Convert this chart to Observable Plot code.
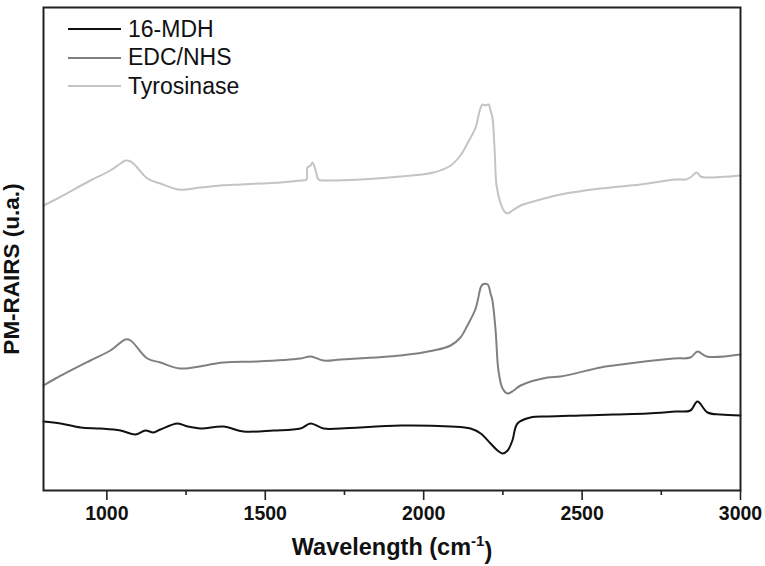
<!DOCTYPE html>
<html>
<head>
<meta charset="utf-8">
<script src="https://cdn.jsdelivr.net/npm/d3@7"></script>
<script src="https://cdn.jsdelivr.net/npm/@observablehq/plot@0.6"></script>
<style>
  html, body { margin: 0; padding: 0; background: #fff; }
  #wrap { position: relative; width: 765px; height: 566px; font-family: "Liberation Sans", Arial, sans-serif; }
  #legend { position: absolute; left: 68px; top: 15px; font-size: 23px; color: #111; }
  #legend .row { display: flex; align-items: center; height: 28.5px; }
  #legend .sw { width: 53px; height: 0; border-top: 2px solid; margin-right: 7px; }
</style>
</head>
<body>
<div id="wrap"><div id="legend"></div></div>
<script>
// wavenumber (cm-1) and signal (arbitrary units)
const mdhX = [800, 854, 917, 980, 1043, 1090, 1122, 1147, 1169, 1223, 1255, 1296, 1368, 1431, 1526, 1611, 1643, 1684, 1738, 1927, 2085, 2148, 2180, 2211, 2233, 2249, 2265, 2280, 2296, 2337, 2391, 2495, 2599, 2707, 2795, 2842, 2864, 2896, 2937, 3000];
const mdhY = [69, 67, 63, 62, 60, 56, 60, 58, 61, 67, 64, 62, 64, 59, 60, 62, 67, 62, 62, 65, 64, 62, 57, 47, 40, 37, 40, 50, 67, 73, 74, 75, 76, 77, 79, 80, 89, 78, 76, 75];

const edcX = [800, 838, 948, 1011, 1059, 1075, 1128, 1169, 1232, 1368, 1475, 1611, 1643, 1684, 1738, 1927, 2031, 2085, 2116, 2138, 2164, 2180, 2186, 2202, 2211, 2217, 2227, 2236, 2249, 2265, 2284, 2306, 2391, 2432, 2558, 2599, 2789, 2842, 2864, 2893, 3000];
const edcY = [105, 112, 130, 140, 151, 150, 132, 128, 122, 128, 129, 132, 134, 130, 131, 135, 140, 145, 153, 165, 182, 203, 206, 206, 197, 190, 160, 120, 102, 97, 100, 105, 113, 114, 123, 125, 132, 133, 139, 134, 136];

const tyrX = [800, 838, 948, 1011, 1043, 1059, 1075, 1090, 1128, 1169, 1226, 1296, 1359, 1422, 1485, 1548, 1611, 1630, 1633, 1643, 1649, 1659, 1668, 1690, 1801, 1927, 2031, 2085, 2116, 2138, 2164, 2173, 2180, 2186, 2195, 2205, 2211, 2217, 2224, 2230, 2243, 2255, 2265, 2280, 2306, 2369, 2432, 2558, 2685, 2795, 2827, 2842, 2861, 2874, 2893, 3000];
const tyrY = [285, 291, 310, 320, 327, 330, 329, 325, 312, 307, 301, 303, 305, 306, 307, 308, 310, 311, 323, 325, 328, 320, 311, 310, 311, 314, 318, 325, 335, 347, 363, 375, 383, 386, 385, 386, 380, 373, 340, 305, 287, 279, 277, 280, 285, 291, 296, 302, 306, 311, 311, 313, 318, 314, 313, 315];

const seriesNames = ["16-MDH", "EDC/NHS", "Tyrosinase"];
const seriesColors = ["#111111", "#808080", "#c4c4c4"];
const majorTicks = [1000, 1500, 2000, 2500, 3000];
const minorTicks = [1250, 1750, 2250, 2750];

const raw = [[mdhX, mdhY], [edcX, edcY], [tyrX, tyrY]];
const data = raw.flatMap(([xs, ys], i) => xs.map((x, j) => ({x, y: ys[j], s: seriesNames[i]})));

const font = "Liberation Sans, Arial, sans-serif";
const chart = Plot.plot({
  width: 765,
  height: 566,
  marginLeft: 43,
  marginRight: 25,
  marginTop: 7,
  marginBottom: 76,
  style: {fontFamily: font, background: "#fff", overflow: "visible"},
  x: {domain: [800, 3000]},
  y: {domain: [0, 483]},
  color: {domain: seriesNames, range: seriesColors},
  marks: [
    Plot.line(data, {x: "x", y: "y", z: "s", stroke: "s", strokeWidth: 2, curve: "catmull-rom"}),
    Plot.axisX({ticks: minorTicks, tickSize: 5, text: null, label: null, stroke: "#222", strokeWidth: 1.6}),
    Plot.axisX({ticks: majorTicks, tickSize: 10, tickPadding: 6, fontSize: 19.5, fontWeight: "bold", fill: "#111",
      stroke: "#222", strokeWidth: 1.6, tickFormat: d => String(d),
      label: "Wavelength (cm-1)", labelAnchor: "center", labelArrow: "none", labelOffset: 64}),
    Plot.axisY({ticks: [], label: "PM-RAIRS (u.a.)", labelAnchor: "center", labelArrow: "none", labelOffset: 40,
      fontSize: 22.5, fontWeight: "bold", fill: "#111"}),
    Plot.frame({stroke: "#222", strokeWidth: 2})
  ]
});
document.getElementById("wrap").prepend(chart);

// style axis titles and add superscript
const svg = d3.select(chart);
svg.selectAll('g[aria-label="x-axis label"] text').each(function() {
  const t = d3.select(this);
  t.attr("font-size", 23.5).attr("font-weight", "bold");
  t.text("");
  t.append("tspan").text("Wavelength (cm");
  t.append("tspan").attr("font-size", 15).attr("dy", "-0.55em").text("-1");
  t.append("tspan").attr("dy", "0.55em").text(")");
});
svg.selectAll('g[aria-label="y-axis label"]').each(function() {
  const g = d3.select(this);
  const tr = g.attr("transform") || "";
  g.attr("transform", "translate(0,20) " + tr);
});

// legend
const lg = d3.select("#legend");
seriesNames.forEach((n, i) => {
  const r = lg.append("div").attr("class", "row");
  r.append("div").attr("class", "sw").style("border-color", seriesColors[i]);
  r.append("span").text(n);
});
</script>
</body>
</html>
